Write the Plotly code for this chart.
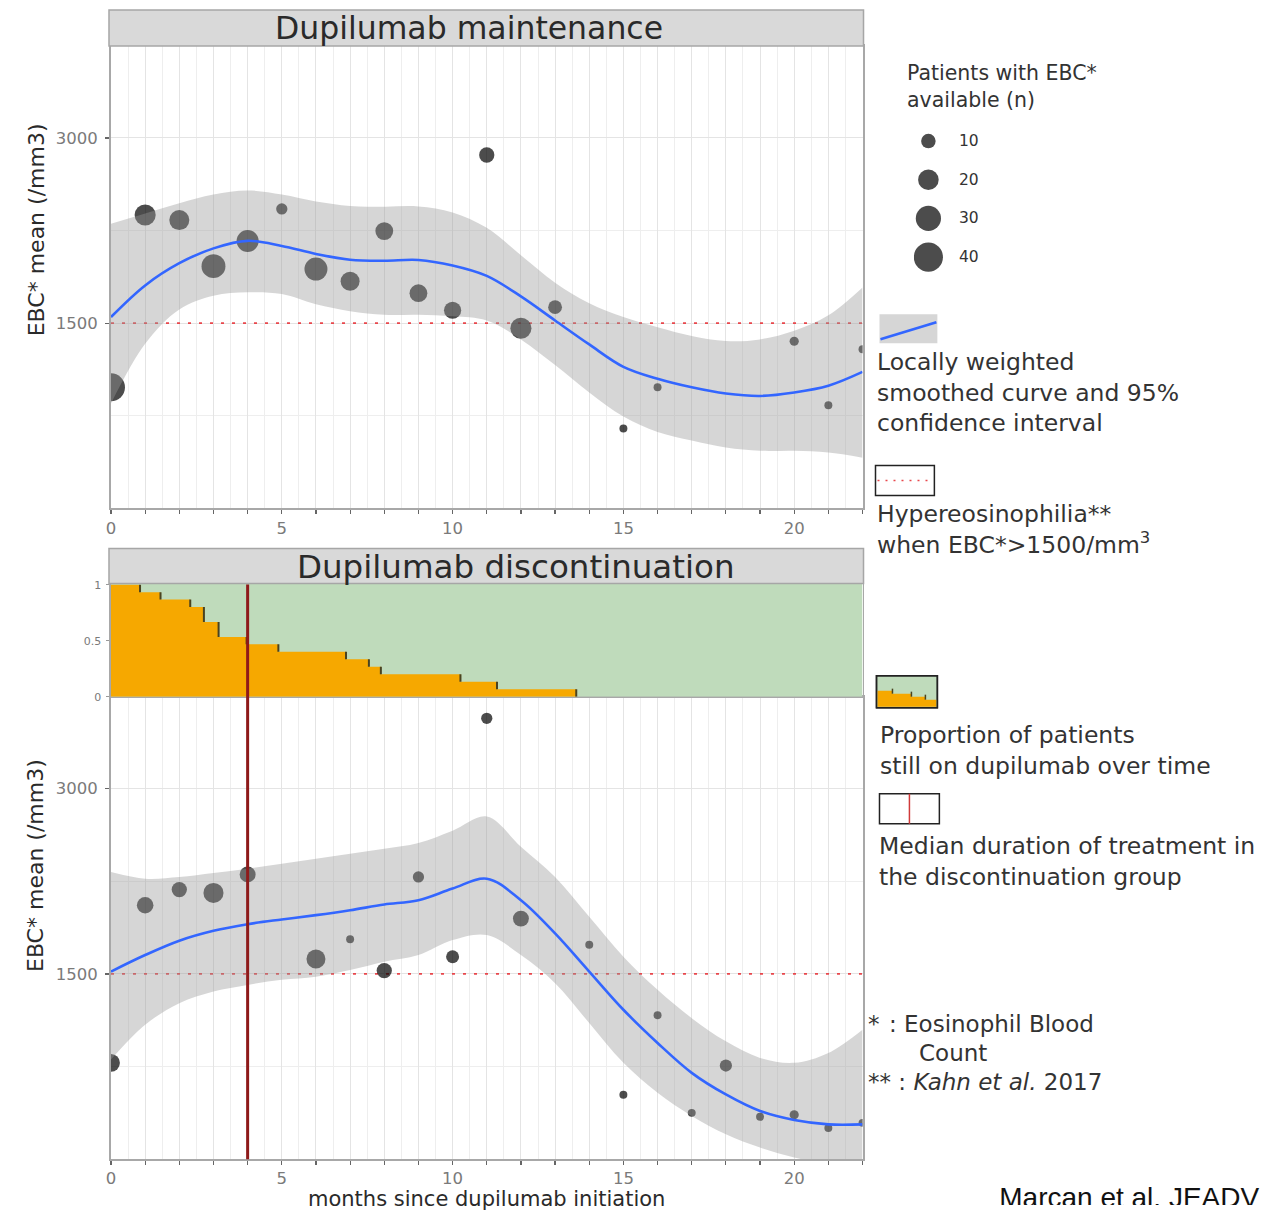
import numpy as np
import plotly.graph_objects as go

W, H = 1266, 1212
# small empirical correction between page pixels and photographed pixels
AX, BX = 0.998, 3.8
AY, BY = 0.989, 5.1

# ------------------------------------------------------------------ data
# Dupilumab maintenance: monthly mean EBC and number of patients
months_top = [0, 1, 2, 3, 4, 5, 6, 7, 8, 9, 10, 11, 12, 13, 15, 16, 20, 21, 22]
ebc_top = [981, 2376, 2335, 1962, 2165, 2425, 1938, 1840, 2246, 1743, 1605, 2862, 1459, 1630, 648, 981, 1354, 835, 1289]
n_top = [37, 21, 19, 27, 23, 6, 25, 17, 15, 15, 14, 11, 21, 9, 3, 3, 4, 3, 3]

# Dupilumab discontinuation
months_bot = [0, 1, 2, 3, 4, 6, 7, 8, 9, 10, 11, 12, 14, 15, 16, 17, 18, 19, 20, 21, 22]
ebc_bot = [780, 2056, 2183, 2156, 2306, 1621, 1780, 1527, 2285, 1639, 3570, 1948, 1736, 522, 1166, 375, 758, 343, 359, 253, 294]
n_bot = [15, 13, 11, 19, 12, 17, 3, 11, 6, 8, 6, 12, 3, 3, 3, 3, 7, 3, 4, 3, 3]

# Loess curves and 95% CI
fit_months = list(range(0, 23))
top_fit = [1550, 1806, 1986, 2106, 2167, 2125, 2061, 2014, 2006, 2012, 1967, 1883, 1717, 1522, 1328, 1147, 1050, 981, 931, 911, 939, 994, 1106]
top_upper = [2306, 2389, 2472, 2542, 2575, 2542, 2486, 2450, 2444, 2445, 2397, 2272, 2050, 1828, 1661, 1550, 1467, 1397, 1356, 1369, 1439, 1564, 1790]
top_lower = [850, 1333, 1611, 1722, 1750, 1736, 1653, 1597, 1569, 1569, 1556, 1522, 1369, 1161, 939, 744, 619, 550, 494, 467, 467, 453, 411]

bot_fit = [1519, 1653, 1769, 1849, 1903, 1941, 1976, 2016, 2062, 2097, 2191, 2271, 2097, 1828, 1519, 1210, 941, 699, 524, 390, 317, 282, 282]
bot_upper = [2325, 2271, 2285, 2317, 2352, 2392, 2433, 2473, 2513, 2560, 2660, 2775, 2530, 2285, 1962, 1640, 1371, 1142, 954, 820, 780, 860, 1048]
bot_lower = [807, 1089, 1263, 1358, 1411, 1452, 1478, 1532, 1599, 1653, 1774, 1815, 1653, 1425, 1102, 780, 538, 350, 202, 94, 14, -40, -60]

# Proportion of patients still on dupilumab (discontinuation group)
km_time = [0, 0.85, 1.45, 2.32, 2.72, 3.15, 3.97, 4.9, 6.88, 7.55, 7.9, 10.23, 11.3, 13.62]
km_prop = [1.0, 0.933, 0.867, 0.8, 0.667, 0.533, 0.467, 0.4, 0.333, 0.267, 0.2, 0.133, 0.067, 0.0]

MEDIAN_DURATION = 4.0
THRESHOLD = 1500

size_legend_n = [10, 20, 30, 40]
x_tick_vals = list(range(0, 23))
x_tick_text = [str(m) if m % 5 == 0 else "" for m in x_tick_vals]
y_tick_vals = [1500, 3000]
y_minor_vals = [750, 2250, 3750]
km_tick_vals = [0, 0.5, 1]
km_tick_text = ["0", "0.5", "1"]
citation = "Marcan et al. JEADV"

X_RANGE = [0, 22]
Y_RANGE = [0, 3745]
SIZE_K = 4.6

FONT = "DejaVu Sans"
TXT = "#333333"


def fx(px):
    return ((px - BX) / AX) / W


def fy(py):
    return 1 - ((py - BY) / AY) / H


def msize(ns):
    return [SIZE_K * np.sqrt(n) for n in ns]


fig = go.Figure()


def panel(xa, ya, months, ebc, ns, fit, lo, hi):
    fig.add_trace(go.Scatter(x=X_RANGE, y=[THRESHOLD, THRESHOLD], mode="lines", xaxis=xa, yaxis=ya,
                             line=dict(color="#E8474C", width=1.8, dash="3px,8px"),
                             hoverinfo="skip", showlegend=False))
    fig.add_trace(go.Scatter(x=months, y=ebc, mode="markers", xaxis=xa, yaxis=ya,
                             marker=dict(color="black", size=msize(ns), line=dict(width=0)),
                             showlegend=False))
    fig.add_trace(go.Scatter(x=fit_months, y=lo, mode="lines", xaxis=xa, yaxis=ya,
                             line=dict(width=0, shape="spline", smoothing=1.0),
                             hoverinfo="skip", showlegend=False))
    fig.add_trace(go.Scatter(x=fit_months, y=hi, mode="lines", xaxis=xa, yaxis=ya,
                             line=dict(width=0, shape="spline", smoothing=1.0),
                             fill="tonexty", fillcolor="rgba(153,153,153,0.4)",
                             hoverinfo="skip", showlegend=False))
    fig.add_trace(go.Scatter(x=fit_months, y=fit, mode="lines", xaxis=xa, yaxis=ya,
                             line=dict(color="#3366FF", width=2.6, shape="spline", smoothing=1.0),
                             showlegend=False))


panel("x", "y", months_top, ebc_top, n_top, top_fit, top_lower, top_upper)
panel("x2", "y2", months_bot, ebc_bot, n_bot, bot_fit, bot_lower, bot_upper)

# Kaplan-Meier style step area
fig.add_trace(go.Scatter(x=km_time, y=km_prop, mode="lines", xaxis="x3", yaxis="y3",
                         line=dict(width=0, shape="hv"), fill="tozeroy", fillcolor="#F6A800",
                         hoverinfo="skip", showlegend=False))
vx, vy = [], []
for i in range(1, len(km_time)):
    vx += [km_time[i], km_time[i], None]
    vy += [km_prop[i - 1], km_prop[i], None]
fig.add_trace(go.Scatter(x=vx, y=vy, mode="lines", xaxis="x3", yaxis="y3",
                         line=dict(color="#4A4320", width=2), hoverinfo="skip", showlegend=False))

# bubble size legend (linear axis, reversed so 10 is on top)
fig.add_trace(go.Scatter(x=[0] * len(size_legend_n), y=size_legend_n,
                         mode="markers", xaxis="x4", yaxis="y4",
                         marker=dict(color="black", size=msize(size_legend_n), line=dict(width=0)),
                         hoverinfo="skip", showlegend=False))

# citation, clipped at the bottom edge like the source image
fig.add_trace(go.Scatter(x=[0], y=[0.2], mode="text", text=[citation], textposition="middle right",
                         xaxis="x5", yaxis="y5", cliponaxis=True,
                         textfont=dict(family="Liberation Sans", size=28, color="#111"),
                         hoverinfo="skip", showlegend=False))

# ------------------------------------------------------------------ axes
grid = "#E4E4E4"
minor_grid = "#EEEEEE"
axis_line = "#A8A8A8"
tick_font = dict(family=FONT, size=16.5, color="#7A7A7A")


def xaxis_cfg(domain_anchor, labels=True):
    return dict(domain=[fx(110), fx(863)], range=X_RANGE, anchor=domain_anchor,
                tickmode="array", tickvals=x_tick_vals,
                ticktext=x_tick_text if labels else [""] * len(x_tick_vals),
                showticklabels=labels, ticks="outside" if labels else "", ticklen=4,
                tickcolor="#666", tickwidth=1.2, tickfont=tick_font,
                showgrid=labels, gridcolor=grid, gridwidth=1,
                minor=dict(tickmode="linear", tick0=0, dtick=0.5, showgrid=labels,
                           gridcolor=minor_grid, gridwidth=1, ticks=""),
                showline=True, linecolor=axis_line, linewidth=1.5, mirror=True,
                zeroline=False, fixedrange=True)


def yaxis_cfg(dom, anchor):
    return dict(domain=dom, range=Y_RANGE, anchor=anchor, tickmode="array",
                tickvals=y_tick_vals, ticktext=[str(v) for v in y_tick_vals],
                ticks="outside", ticklen=4, tickcolor="#666", tickwidth=1.2,
                tickfont=tick_font, ticklabelstandoff=4, showgrid=True, gridcolor=grid,
                minor=dict(tickmode="array", tickvals=y_minor_vals, showgrid=True,
                           gridcolor=minor_grid, ticks=""),
                showline=True, linecolor=axis_line, linewidth=2, mirror=True,
                zeroline=False)


fig.update_layout(
    width=W, height=H, margin=dict(l=0, r=0, t=0, b=0),
    paper_bgcolor="white", plot_bgcolor="white",
    font=dict(family=FONT, color=TXT),
    xaxis=xaxis_cfg("y"),
    yaxis=yaxis_cfg([fy(508), fy(46)], "x"),
    xaxis2=xaxis_cfg("y2"),
    yaxis2=yaxis_cfg([fy(1158), fy(696)], "x2"),
    xaxis3=xaxis_cfg("y3", labels=False),
    yaxis3=dict(domain=[fy(696), fy(583)], range=[0, 1.01], anchor="x3", tickmode="array",
                tickvals=km_tick_vals, ticktext=km_tick_text, ticks="outside", ticklen=3,
                tickcolor="#999", tickfont=dict(family=FONT, size=11, color="#7A7A7A"),
                ticklabelstandoff=3,
                showgrid=False, showline=True, linecolor=axis_line, linewidth=1.5,
                mirror=True, zeroline=False),
    xaxis4=dict(domain=[fx(914.5), fx(972.5)], range=[-0.5, 1.5], anchor="y4", visible=False),
    yaxis4=dict(domain=[fy(276.3), fy(121.7)], range=[45, 5], anchor="x4", visible=False),
    xaxis5=dict(domain=[fx(1000), 1], range=[0, 1], anchor="y5", visible=False),
    yaxis5=dict(domain=[0, fy(1180)], range=[0, 1], anchor="x5", visible=False),
)

shapes = []
annotations = []


def rect_px(x0, y0, x1, y1, fill, line_color=None, lw=0, layer="above"):
    shapes.append(dict(type="rect", xref="paper", yref="paper", x0=fx(x0), x1=fx(x1),
                       y0=fy(y1), y1=fy(y0), fillcolor=fill, layer=layer,
                       line=dict(color=line_color or fill, width=lw)))


def line_px(x0, y0, x1, y1, color, width, dash=None):
    d = dict(color=color, width=width)
    if dash:
        d["dash"] = dash
    shapes.append(dict(type="line", xref="paper", yref="paper", x0=fx(x0), x1=fx(x1),
                       y0=fy(y0), y1=fy(y1), line=d))


def text_px(x, y, text, size, xanchor="left", yanchor="middle", color=TXT, family=FONT, angle=0):
    annotations.append(dict(x=fx(x), y=fy(y), xref="paper", yref="paper", text=text,
                            showarrow=False, xanchor=xanchor, yanchor=yanchor, align="left",
                            textangle=angle, font=dict(family=family, size=size, color=color)))


# strips
rect_px(108, 10, 864, 46, "#D9D9D9", "#A6A6A6", 1.5)
rect_px(108, 548, 864, 583, "#D9D9D9", "#A6A6A6", 1.5)
text_px(469, 28, "Dupilumab maintenance", 31.5, xanchor="center", color="#2A2A2A")
text_px(516, 566, "Dupilumab discontinuation", 32.5, xanchor="center", color="#2A2A2A")

# KM green background
shapes.append(dict(type="rect", xref="x3", yref="y3", x0=X_RANGE[0], x1=X_RANGE[1], y0=0, y1=1.01,
                   fillcolor="#BFDBBB", line=dict(width=0), layer="below"))

# median duration line
shapes.append(dict(type="line", xref="x2", yref="paper", x0=MEDIAN_DURATION, x1=MEDIAN_DURATION,
                   y0=fy(1158), y1=fy(584), line=dict(color="#8E1A1A", width=3)))

# axis titles
text_px(35, 230, "EBC* mean (/mm3)", 22, xanchor="center", color="#2A2A2A", angle=-90)
text_px(35, 865, "EBC* mean (/mm3)", 22, xanchor="center", color="#2A2A2A", angle=-90)
text_px(486, 1198, "months since dupilumab initiation", 21, xanchor="center", color="#2A2A2A")

# legend: bubble sizes
text_px(906, 87, "Patients with EBC*<br>available (n)", 20.5)
for n in size_legend_n:
    annotations.append(dict(x=1, y=n, xref="x4", yref="y4", text=str(n), showarrow=False,
                            xanchor="left", yanchor="middle",
                            font=dict(family=FONT, size=15.5, color=TXT)))

# legend: loess
rect_px(880, 314, 938, 343, "#D6D6D6")
line_px(881, 339, 937, 322, "#3366FF", 2.6)
text_px(876, 392, "Locally weighted<br>smoothed curve and 95%<br>confidence interval", 23.5)

# legend: hypereosinophilia
rect_px(876, 465, 935, 495, "white", "#222", 1.5)
line_px(878, 480, 933, 480, "#E8474C", 1.5, dash="2px,6px")
text_px(876, 529, "Hypereosinophilia**<br>when EBC*&gt;1500/mm<sup>3</sup>", 23.5)

# legend: proportion on treatment
rect_px(877, 675, 938, 707, "#BFDBBB", "#222", 1.5)
key_pts = [(878, 690), (893, 690), (893, 693), (912, 693), (912, 696), (926, 696), (926, 699),
           (937, 699), (937, 706), (878, 706)]
path = "M " + " L ".join(f"{fx(a):.5f},{fy(b):.5f}" for a, b in key_pts) + " Z"
shapes.append(dict(type="path", xref="paper", yref="paper", path=path, fillcolor="#F6A800",
                   line=dict(width=0)))
for (a, b0, b1) in [(893, 688, 693), (912, 691, 696), (926, 694, 699)]:
    line_px(a, b0, a, b1, "#4A4320", 1.5)
rect_px(877, 675, 938, 707, "rgba(0,0,0,0)", "#222", 1.5)
text_px(879, 750, "Proportion of patients<br>still on dupilumab over time", 23.5)

# legend: median duration
rect_px(880, 793, 940, 823, "white", "#222", 1.5)
line_px(910, 793, 910, 823, "#D03A3A", 1.5)
text_px(878, 861, "Median duration of treatment in<br>the discontinuation group", 23.5)

# footnotes
text_px(866, 1023, "*", 23)
text_px(888, 1023, ": Eosinophil Blood", 23)
text_px(918, 1052, "Count", 23)
text_px(866, 1081, "** : <i>Kahn et al.</i> 2017", 23)

fig.update_layout(shapes=shapes, annotations=annotations)
fig.write_html(
    "out.html",
    config={"displayModeBar": False, "staticPlot": True},
    post_script="document.body.style.margin='0';"
                "document.documentElement.style.overflow='hidden';"
                "document.body.style.overflow='hidden';",
)
